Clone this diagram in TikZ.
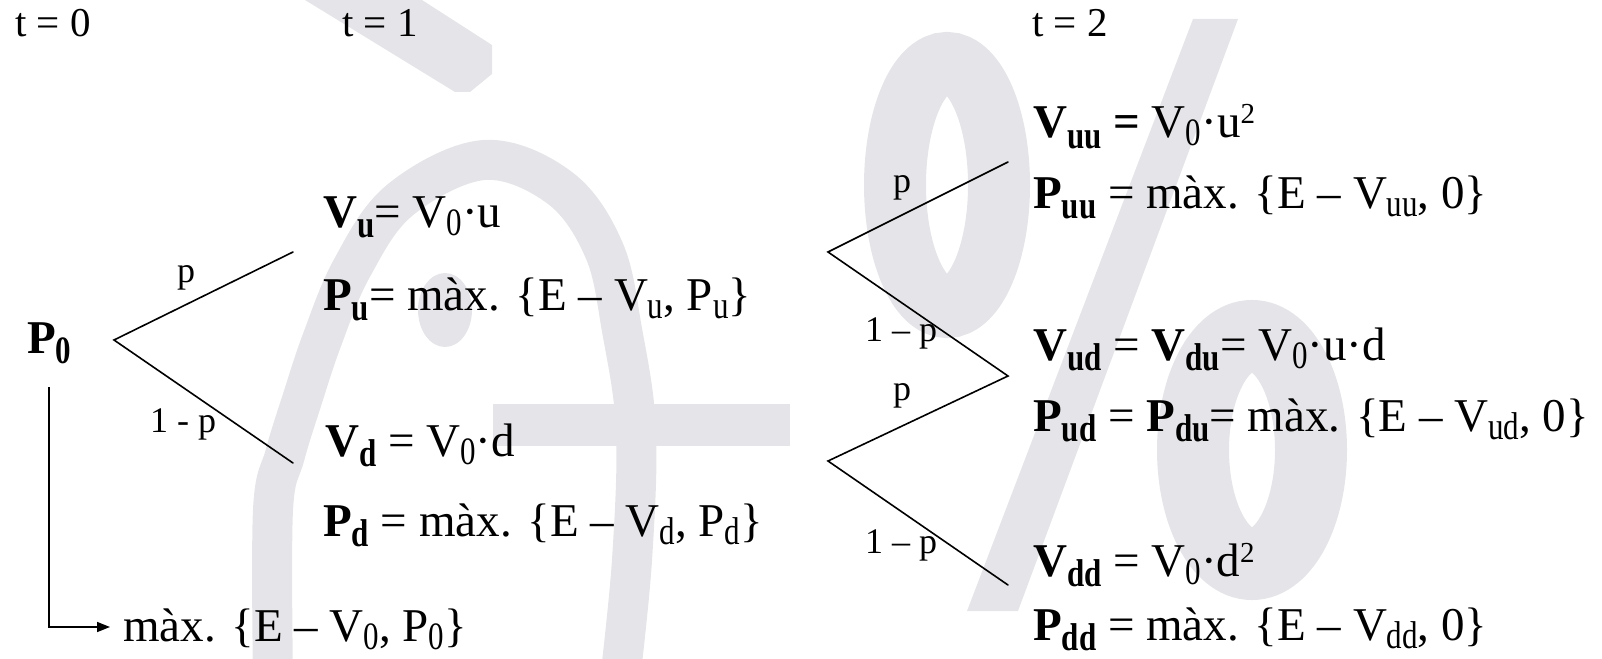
\documentclass[tikz,border=0pt]{standalone}
\usepackage{fontspec}
\usepackage{graphicx}
\setmainfont{Liberation Serif}
\usetikzlibrary{arrows.meta}
\definecolor{wmgray}{RGB}{229,229,233}
\newcommand\bsub[1]{\raisebox{-10pt}{\scalebox{1}[1.25]{\fontsize{31}{31}\selectfont\bfseries #1}}}
\newcommand\rsub[1]{\raisebox{-8pt}{\scalebox{1}[1.25]{\fontsize{31}{31}\selectfont #1}}}
\newcommand\sps[1]{\raisebox{14pt}{\fontsize{29}{29}\selectfont #1}}
\tikzset{
  txt/.style={anchor=base west, inner sep=0pt, font=\fontsize{47}{50}\selectfont},
  tlab/.style={anchor=base west, inner sep=0pt, font=\fontsize{41}{45}\selectfont},
  plab/.style={anchor=base west, inner sep=0pt, font=\fontsize{36}{40}\selectfont},
  wm/.style={fill=wmgray, draw=none},
  wmline/.style={draw=wmgray},
  branch/.style={line width=1.6pt, line cap=round, line join=miter}
}
\begin{document}
\begin{tikzpicture}[x=1pt,y=-1pt]
\useasboundingbox (0,0) rectangle (1602,658);
% watermark
\fill[wm] (305,0) -- (422,0) -- (492,45) -- (492,74) -- (470,92) -- (455,92) -- cycle;
\draw[wmline, line width=40pt] plot[smooth, tension=0.6] coordinates {(273,680) (273,510) (285,455) (302,400) (322,340) (352,268) (400,200) (484,160) (560,188) (604,250) (622,330) (636,430) (632,560) (620,680)};
\fill[wm] (493,404) rectangle (790,446);
\fill[wm] (445,310) ellipse [x radius=27pt, y radius=37pt];
\draw[wmline, line width=62pt] (947,185) ellipse [x radius=52pt, y radius=122pt];
\draw[wmline, line width=72pt] (1252,450) ellipse [x radius=59pt, y radius=114pt];
\fill[wm] (1193,19) -- (1238,19) -- (1018,611) -- (967,611) -- cycle;

% time labels
\node[tlab] (t0) at (15,37) {t = 0};
\node[tlab] (t1) at (342,37) {t = 1};
\node[tlab] (t2) at (1032,37) {t = 2};

% left tree
\node[txt] (p0) at (27,353) {\textbf{P}\bsub{0}};
\coordinate (a0) at (114,340);
\coordinate (au) at (293,252);
\coordinate (ad) at (293,463);
\draw[branch] (au) -- (a0) -- (ad);
\node[plab] (lp1) at (177,282) {p};
\node[plab] (lq1) at (150,432) {1 - p};

\node[txt] (vu) at (323,227) {\textbf{V}\bsub{u}= V\rsub{0}·u};
\node[txt] (pu) at (323,310) {\textbf{P}\bsub{u}= màx. \{E – V\rsub{u}, P\rsub{u}\}};
\node[txt] (vd) at (325,456) {\textbf{V}\bsub{d} = V\rsub{0}·d};
\node[txt] (pd) at (323,536) {\textbf{P}\bsub{d} = màx. \{E – V\rsub{d}, P\rsub{d}\}};

% exercise arrow
\coordinate (e0) at (49,387);
\coordinate (e1) at (49,627);
\node[txt] (ex) at (123,641) {màx. \{E – V\rsub{0}, P\rsub{0}\}};
\coordinate (e2) at (110,627);
\draw[line width=1.6pt, -{Triangle[length=13pt,width=10pt]}] (e0) -- (e1) -- (e2);

% right tree
\coordinate (b0) at (828,252);
\coordinate (buu) at (1008,162);
\coordinate (bm) at (1008,376);
\coordinate (b1) at (828,461);
\coordinate (bdd) at (1008,585);
\draw[branch] (buu) -- (b0) -- (bm) -- (b1) -- (bdd);
\node[plab] (rp1) at (893,192) {p};
\node[plab] (rq1) at (865,341) {1 – p};
\node[plab] (rp2) at (893,400) {p};
\node[plab] (rq2) at (865,553) {1 – p};

\node[txt] (vuu) at (1033,138) {\textbf{V}\bsub{uu} \textbf{=} V\rsub{0}·u\sps{2}};
\node[txt] (puu) at (1033,208) {\textbf{P}\bsub{uu} = màx. \{E – V\rsub{uu}, 0\}};
\node[txt] (vud) at (1033,360) {\textbf{V}\bsub{ud} = \textbf{V}\bsub{du}= V\rsub{0}·u·d};
\node[txt] (pud) at (1033,431) {\textbf{P}\bsub{ud} = \textbf{P}\bsub{du}= màx. \{E – V\rsub{ud}, 0\}};
\node[txt] (vdd) at (1033,576) {\textbf{V}\bsub{dd} = V\rsub{0}·d\sps{2}};
\node[txt] (pdd) at (1033,640) {\textbf{P}\bsub{dd} = màx. \{E – V\rsub{dd}, 0\}};
\end{tikzpicture}
\end{document}
